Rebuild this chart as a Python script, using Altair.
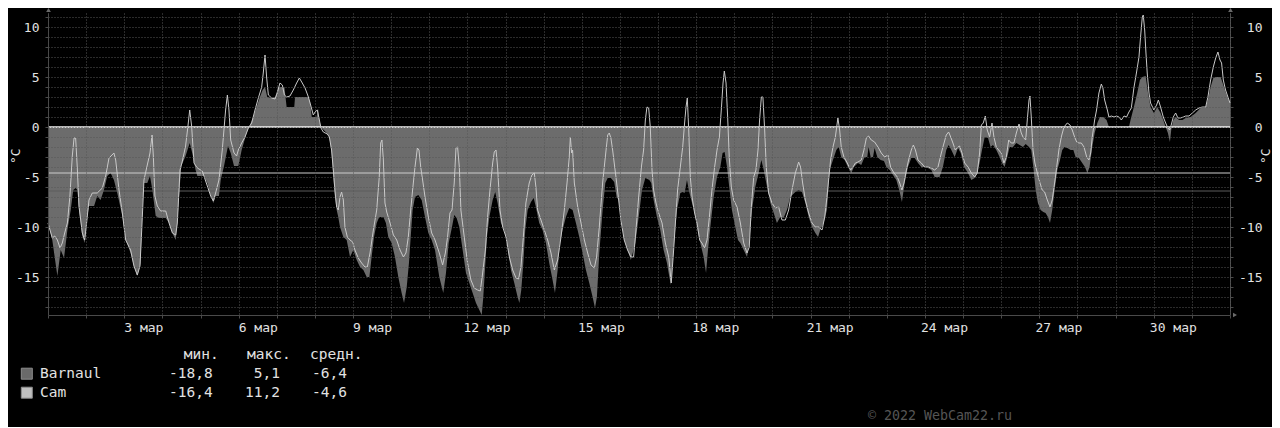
import altair as alt
import pandas as pd

# ---------------- data (hours since 1 Mar 00:00, °C) ----------------
barnaul = [
    (0, -9.6), (2.7, -11.3), (5.9, -14.9), (8.0, -12.3), (10.1, -13.1), (12.2, -10.3), (14.3, -8.3), (15.9, -6.3),
    (17.4, -6.1), (18.5, -6.3), (19.5, -8.3), (21.6, -10.9), (23.1, -11.6), (24.8, -8.9), (25.8, -7.9), (29.0, -7.9),
    (31.0, -6.9), (33.1, -7.3), (35.2, -6.3), (37.3, -4.9), (39.4, -4.6), (41.5, -5.3), (43.6, -6.6), (46.8, -8.9),
    (48.9, -11.3), (52.0, -12.6), (54.1, -13.9), (56.2, -14.9), (58.3, -13.6), (59.4, -8.3), (60.4, -5.6), (62.5, -5.6),
    (64.2, -4.9), (65.7, -6.3), (67.8, -8.9), (69.9, -9.1), (74.1, -9.1), (76.2, -9.6), (78.3, -10.6), (80.4, -11.3),
    (81.4, -9.6), (82.5, -6.9), (83.9, -3.9), (86.6, -2.9), (89.2, -1.6), (90.8, -2.6), (92.9, -4.3), (94.0, -4.9),
    (98.2, -4.9), (100.3, -5.6), (102.4, -6.9), (104.1, -7.6), (105.5, -6.9), (107.6, -6.9), (108.7, -5.3), (110.8, -3.9),
    (113.3, -1.9), (115.0, -2.6), (117.1, -3.9), (119.8, -3.9), (121.9, -2.3), (125.0, -0.6), (127.1, 0.2), (129.2, 1.0),
    (131.3, 2.0), (133.4, 3.0), (135.1, 3.7), (136.6, 4.0), (138.0, 3.0), (140.8, 2.9), (143.0, 3.0), (145.0, 4.0),
    (148.8, 4.0), (150.2, 2.0), (155.0, 2.0), (155.5, 3.0), (163.8, 3.0), (165.0, 2.5), (166.0, 1.0), (169.0, 1.0),
    (170.0, 1.8), (171.0, 0.5), (172.3, -0.1), (175.4, -0.6), (177.1, -1.0), (178.5, -2.6), (179.6, -5.0), (180.6, -7.0),
    (181.7, -8.3), (182.7, -9.0), (183.8, -10.0), (185.9, -11.0), (188.0, -11.3), (190.1, -13.0), (192.2, -12.3), (194.3, -13.3),
    (196.4, -14.0), (198.5, -14.3), (200.6, -15.0), (202.3, -15.0), (203.7, -13.0), (205.2, -11.0), (206.9, -9.6), (208.5, -9.0),
    (211.1, -9.0), (212.7, -9.6), (214.2, -11.0), (216.3, -11.6), (218.4, -13.0), (220.5, -15.0), (222.6, -16.6), (224.1, -17.6),
    (225.8, -16.0), (227.2, -13.6), (228.3, -11.0), (229.5, -8.3), (231.0, -7.0), (233.1, -6.8), (235.2, -7.3), (237.3, -9.0),
    (239.4, -10.6), (241.5, -11.3), (243.6, -12.3), (246.3, -15.0), (248.8, -16.6), (250.5, -14.6), (252.2, -11.6), (254.3, -10.0),
    (255.7, -8.8), (257.2, -9.1), (258.9, -10.0), (261.0, -12.3), (263.1, -14.6), (265.2, -15.6), (267.3, -16.6), (269.4, -17.6),
    (271.5, -18.3), (273.0, -18.8), (274.0, -17.0), (275.3, -13.6), (276.3, -11.0), (277.8, -9.0), (279.9, -7.3), (281.5, -6.5),
    (283.0, -7.6), (285.1, -9.6), (287.2, -10.3), (289.3, -12.0), (291.4, -14.3), (293.5, -15.6), (295.6, -17.0), (296.7, -17.6),
    (297.9, -16.3), (299.2, -13.6), (300.4, -10.3), (301.9, -8.3), (304.0, -7.5), (305.7, -7.1), (307.1, -8.0), (309.2, -9.6),
    (311.3, -10.3), (313.4, -11.6), (315.5, -13.6), (317.6, -15.3), (319.1, -16.6), (320.8, -14.3), (322.2, -11.6), (323.9, -10.3),
    (326.0, -9.0), (328.1, -8.1), (330.2, -8.3), (332.3, -9.6), (334.4, -11.0), (336.5, -12.6), (338.6, -14.3), (340.7, -15.6),
    (342.8, -17.0), (344.3, -18.1), (345.5, -17.0), (347.0, -12.6), (349.1, -8.3), (350.8, -5.6), (352.3, -5.1), (354.3, -5.1),
    (356.4, -5.5), (357.9, -7.0), (359.2, -7.3), (360.6, -9.0), (362.7, -11.3), (364.8, -12.3), (366.9, -13.3), (369.7, -11.6),
    (371.8, -9.0), (373.9, -6.3), (376.0, -5.1), (378.5, -5.3), (379.7, -5.6), (381.2, -7.3), (383.3, -9.0), (385.4, -10.3),
    (387.5, -12.3), (389.6, -13.6), (391.1, -15.0), (392.1, -15.8), (393.2, -13.6), (394.4, -11.0), (395.9, -8.3), (398.0, -6.6),
    (399.5, -6.5), (400.7, -6.6), (402.2, -5.3), (403.3, -6.3), (404.9, -7.3), (407.0, -8.6), (408.5, -10.0), (410.6, -11.6),
    (412.7, -13.0), (414.2, -14.6), (415.4, -12.3), (416.9, -10.0), (419.0, -7.0), (421.1, -5.0), (423.2, -4.0), (424.6, -2.6),
    (425.9, -2.5), (427.4, -4.0), (428.8, -6.0), (430.5, -8.3), (432.6, -10.0), (434.3, -11.3), (435.8, -11.6), (437.9, -12.3),
    (440.0, -13.0), (441.4, -11.6), (443.1, -8.3), (445.2, -6.0), (447.3, -4.6), (449.0, -3.3), (450.5, -4.3), (452.6, -6.0),
    (454.7, -7.6), (456.8, -8.6), (458.8, -9.6), (460.9, -9.0), (463.0, -9.1), (465.1, -8.3), (467.2, -7.0), (470.4, -6.5),
    (472.5, -6.3), (474.6, -6.5), (476.7, -7.6), (478.8, -9.0), (480.9, -10.0), (483.0, -10.6), (484.7, -11.0), (486.1, -10.3),
    (488.2, -9.6), (490.3, -8.3), (492.0, -4.3), (494.1, -3.3), (496.2, -2.3), (497.7, -2.0), (499.3, -3.0), (501.4, -3.3),
    (503.5, -4.0), (505.6, -4.6), (507.3, -4.0), (509.8, -3.6), (511.9, -3.8), (514.0, -3.0), (515.7, -3.0), (516.5, -2.0),
    (517.8, -3.0), (519.3, -3.0), (520.3, -2.1), (522.0, -3.0), (524.1, -3.3), (526.2, -3.4), (527.7, -4.0), (529.8, -4.3),
    (531.9, -4.8), (534.0, -5.3), (536.1, -6.5), (537.5, -7.5), (539.2, -5.6), (541.3, -4.0), (543.4, -3.1), (545.5, -3.1),
    (547.6, -3.6), (549.7, -4.0), (552.8, -4.0), (556.0, -4.3), (558.1, -5.0), (561.2, -5.0), (563.3, -4.0), (565.4, -2.3),
    (566.9, -1.8), (568.6, -2.3), (570.7, -3.0), (572.8, -2.1), (574.5, -2.6), (576.6, -4.0), (579.1, -4.6), (581.2, -5.3),
    (583.3, -5.1), (584.9, -4.6), (586.4, -3.6), (587.9, -2.3), (589.6, -1.0), (591.7, -1.1), (593.3, -2.0), (594.8, -1.8),
    (596.9, -2.3), (599.0, -3.0), (600.5, -3.6), (602.1, -4.0), (603.8, -3.0), (605.3, -2.0), (607.4, -2.0), (609.5, -1.6),
    (611.6, -1.8), (613.7, -2.0), (615.4, -1.7), (617.5, -2.0), (618.9, -2.3), (620.2, -4.0), (621.7, -6.3), (623.1, -7.6),
    (624.8, -8.3), (626.5, -8.5), (627.9, -8.6), (629.4, -9.0), (630.7, -9.6), (632.1, -8.3), (633.6, -6.3), (635.3, -4.3),
    (637.0, -3.3), (638.4, -2.3), (639.9, -2.0), (641.6, -2.1), (643.7, -2.3), (645.4, -2.3), (646.8, -3.0), (648.9, -3.1),
    (651.0, -3.6), (652.7, -4.0), (654.2, -4.6), (655.6, -4.0), (657.3, -2.0), (658.8, -0.6), (660.5, 0.4), (662.1, 1.0),
    (664.2, 1.0), (666.3, 0.7), (667.8, 0.0), (680.4, 0.0), (681.4, 0.7), (683.5, 2.0), (685.6, 3.4), (687.3, 4.7),
    (688.8, 5.0), (690.9, 5.1), (692.4, 3.4), (694.0, 2.0), (696.1, 1.4), (698.2, 2.0), (700.3, 1.4), (702.0, 0.7),
    (703.5, 0.0), (704.9, -0.6), (706.2, -1.5), (707.0, -0.3), (708.3, 0.7), (709.8, 1.0), (711.9, 0.7), (714.0, 0.7),
    (716.1, 0.9), (719.2, 1.0), (722.4, 1.4), (725.5, 1.9), (728.7, 2.0), (730.1, 2.7), (731.8, 4.0), (733.5, 4.9),
    (735.0, 5.0), (738.1, 5.0), (739.8, 4.2), (741.2, 3.5), (742.7, 2.9), (744.0, 2.4),
]

cam = [
    (0, -9.6), (2.7, -11.1), (4.2, -10.9), (5.9, -11.3), (7.6, -12.1), (9.0, -11.6), (10.5, -10.6), (12.2, -9.6),
    (13.8, -6.9), (15.3, -2.9), (16.4, -1.1), (17.4, -1.1), (18.5, -4.3), (19.5, -7.9), (21.6, -10.6), (23.1, -11.3),
    (24.3, -9.6), (25.8, -7.3), (27.9, -6.6), (31.0, -6.6), (34.2, -6.1), (36.3, -4.9), (38.4, -3.1), (41.5, -2.6),
    (42.6, -3.3), (44.7, -6.3), (46.8, -8.6), (48.9, -11.3), (52.0, -12.3), (54.1, -13.9), (56.2, -14.8), (57.9, -13.9),
    (59.4, -8.9), (60.4, -5.3), (62.5, -3.8), (64.2, -2.6), (65.5, -0.8), (66.3, -2.9), (67.3, -6.9), (68.8, -7.9),
    (70.9, -8.4), (74.1, -8.4), (76.2, -9.6), (78.3, -10.6), (80.4, -10.8), (81.4, -9.6), (83.1, -4.3), (84.6, -3.4),
    (86.6, -1.9), (88.1, 0.1), (89.2, 1.7), (90.4, 0.1), (91.9, -3.6), (94.0, -4.1), (97.1, -4.4), (100.3, -5.9),
    (102.4, -6.9), (104.1, -7.4), (105.5, -6.6), (107.6, -5.3), (109.7, -2.3), (111.8, 1.7), (112.9, 3.2), (113.9, 1.7),
    (115.0, -1.3), (117.1, -2.6), (118.7, -2.9), (119.8, -2.3), (121.9, -1.6), (124.0, -1.0), (126.1, -0.1), (128.2, 0.4),
    (130.3, 1.7), (132.4, 2.9), (134.5, 4.0), (135.5, 5.4), (136.6, 7.2), (137.6, 5.0), (138.7, 3.2), (140.8, 2.9),
    (142.9, 2.8), (144.3, 3.4), (146.0, 4.4), (147.5, 4.2), (148.8, 3.2), (150.2, 3.0), (152.3, 3.1), (154.4, 3.7),
    (156.5, 4.4), (158.2, 4.9), (159.7, 4.5), (161.8, 3.9), (163.9, 3.0), (165.3, 2.2), (167.0, 1.2), (168.1, 1.5),
    (169.5, 1.7), (170.8, 0.7), (171.8, -0.1), (173.3, -0.5), (175.8, -0.7), (177.1, -1.0), (178.5, -2.3), (179.6, -4.3),
    (180.6, -6.3), (181.7, -8.0), (182.7, -8.3), (183.8, -7.0), (184.8, -6.5), (185.9, -7.3), (186.9, -10.0), (188.4, -11.0),
    (190.1, -11.3), (191.8, -11.5), (193.2, -12.3), (195.3, -13.1), (197.4, -13.6), (199.5, -14.0), (201.0, -14.0), (202.7, -12.6),
    (204.8, -10.3), (206.9, -8.3), (208.5, -5.0), (209.4, -1.6), (210.2, -1.3), (211.1, -3.3), (212.1, -7.6), (213.2, -8.5),
    (215.3, -9.6), (217.4, -10.8), (219.5, -11.3), (221.6, -12.3), (223.7, -13.0), (225.3, -12.6), (226.8, -11.0), (228.3, -8.3),
    (229.5, -6.3), (231.0, -4.0), (232.5, -2.1), (233.5, -2.3), (234.6, -4.0), (235.8, -5.3), (237.3, -7.0), (239.4, -9.0),
    (241.5, -10.6), (243.6, -11.3), (246.3, -12.6), (248.4, -13.8), (250.1, -12.6), (251.5, -11.0), (253.0, -8.6), (254.3, -8.3),
    (255.7, -5.6), (256.8, -2.1), (257.8, -2.0), (258.9, -4.0), (259.9, -8.3), (262.0, -11.0), (264.1, -13.6), (266.2, -15.3),
    (268.3, -16.1), (270.4, -16.3), (272.1, -16.4), (273.6, -14.6), (275.3, -12.3), (276.7, -9.0), (278.2, -6.3), (279.9, -3.6),
    (280.9, -2.5), (282.0, -2.3), (283.0, -4.0), (284.5, -8.3), (286.2, -10.0), (288.3, -11.0), (290.4, -13.0), (292.5, -14.3),
    (294.6, -15.1), (296.2, -15.2), (297.7, -14.0), (299.2, -11.0), (300.8, -7.6), (302.9, -5.6), (304.6, -4.8), (306.1, -4.6),
    (307.1, -6.0), (308.2, -8.3), (310.3, -9.3), (312.4, -10.3), (314.5, -11.3), (316.6, -12.6), (318.7, -14.3), (320.8, -13.3),
    (322.9, -11.0), (325.0, -8.3), (326.7, -5.6), (328.1, -3.0), (328.8, -1.0), (329.6, -2.6), (330.2, -2.3), (331.3, -5.6),
    (333.4, -8.0), (335.5, -9.6), (337.6, -11.3), (339.7, -12.6), (341.8, -13.8), (343.9, -14.1), (345.3, -13.0), (347.0, -10.0),
    (349.1, -5.6), (350.8, -3.0), (352.3, -0.8), (353.3, -0.6), (354.3, -1.1), (355.4, -2.3), (356.4, -3.6), (357.5, -5.0),
    (359.2, -7.3), (360.6, -9.3), (362.7, -11.3), (364.8, -12.3), (366.9, -13.0), (368.6, -13.0), (370.1, -10.3), (371.8, -7.0),
    (373.5, -4.0), (374.9, -2.3), (376.0, 0.7), (377.0, 2.0), (378.1, 1.9), (379.1, 0.0), (380.2, -4.3), (381.2, -6.3),
    (382.7, -7.6), (384.4, -8.6), (386.5, -9.6), (388.6, -11.6), (390.7, -13.0), (392.3, -15.6), (393.8, -12.3), (394.9, -9.6),
    (396.3, -6.3), (398.0, -4.0), (399.5, -2.0), (400.7, 0.4), (401.6, 2.0), (402.4, 2.9), (403.3, -0.3), (404.3, -5.0),
    (405.4, -7.0), (407.0, -8.6), (408.5, -9.6), (410.2, -11.3), (411.6, -11.6), (413.3, -12.1), (414.8, -11.3), (416.3, -9.0),
    (417.9, -6.3), (419.6, -4.0), (421.1, -2.3), (422.6, -1.0), (423.8, 1.7), (424.9, 4.4), (425.7, 5.6), (426.8, 4.4),
    (427.8, 1.0), (428.8, -3.0), (430.1, -6.0), (431.6, -7.3), (433.7, -8.0), (435.8, -9.6), (437.9, -11.6), (440.0, -12.6),
    (441.4, -12.0), (442.7, -8.0), (444.2, -5.0), (445.6, -4.3), (446.9, -2.3), (447.9, 0.7), (449.0, 3.0), (450.0, 3.0),
    (451.1, -0.3), (452.1, -4.0), (453.6, -6.6), (455.7, -7.6), (457.8, -8.1), (459.9, -8.0), (462.0, -9.3), (464.1, -9.3),
    (466.2, -8.3), (468.3, -6.3), (470.4, -4.6), (472.5, -3.5), (473.7, -4.0), (475.0, -5.6), (476.7, -7.3), (478.8, -8.6),
    (480.9, -9.6), (483.0, -10.0), (485.1, -10.0), (487.2, -10.3), (488.9, -9.0), (490.3, -7.0), (492.6, -3.3), (494.1, -2.0),
    (495.6, -1.0), (497.2, 0.9), (498.3, -0.3), (499.3, -2.0), (501.0, -3.0), (503.1, -3.6), (505.2, -4.3), (506.7, -4.0),
    (508.2, -3.6), (509.8, -3.5), (511.9, -3.3), (513.6, -2.3), (515.1, -1.1), (516.5, -0.9), (518.2, -1.3), (520.3, -1.5),
    (522.4, -2.0), (524.5, -2.6), (526.6, -3.0), (528.7, -2.8), (530.4, -4.0), (532.5, -4.6), (534.6, -5.0), (536.1, -5.6),
    (537.5, -6.3), (538.8, -5.6), (540.3, -4.3), (541.7, -3.3), (543.4, -2.3), (544.7, -1.8), (546.0, -2.3), (547.6, -3.3),
    (549.7, -3.6), (551.8, -4.0), (553.9, -4.0), (556.0, -4.1), (558.1, -4.3), (560.2, -4.0), (562.3, -2.6), (564.0, -1.6),
    (565.4, -0.8), (566.9, -0.5), (568.2, -1.0), (569.6, -1.6), (571.1, -2.3), (572.8, -2.0), (573.8, -1.9), (575.3, -2.6),
    (577.0, -3.6), (579.1, -4.0), (581.2, -4.6), (583.3, -5.0), (584.9, -4.6), (586.4, -2.6), (587.5, 0.2), (588.7, 0.4),
    (590.0, 1.1), (591.2, -0.3), (592.7, -1.0), (594.2, 0.4), (595.4, -1.0), (596.9, -2.0), (598.4, -2.3), (600.0, -2.6),
    (601.7, -3.6), (603.2, -3.0), (604.7, -1.3), (606.3, -1.6), (608.0, -1.6), (609.5, -0.6), (611.2, 0.3), (612.6, -0.6),
    (613.7, -1.0), (615.4, -1.3), (616.4, 0.7), (617.5, 2.7), (618.1, 3.1), (618.9, 1.0), (620.0, -2.3), (621.2, -3.6),
    (622.7, -4.6), (624.4, -5.6), (625.8, -6.3), (627.3, -6.5), (629.0, -7.3), (630.7, -8.0), (632.1, -7.3), (633.6, -5.6),
    (634.9, -4.0), (636.3, -2.3), (637.8, -1.0), (639.5, 0.0), (641.6, 0.4), (643.3, 0.2), (644.7, -0.3), (646.2, -1.0),
    (647.5, -1.5), (648.9, -1.6), (650.4, -1.6), (652.1, -2.0), (653.8, -3.0), (655.2, -3.3), (656.3, -2.6), (657.3, -1.0),
    (658.8, 0.7), (660.0, 1.7), (661.5, 3.4), (663.0, 4.3), (664.0, 3.9), (665.1, 2.7), (666.8, 1.7), (667.8, 1.0),
    (669.3, 1.1), (671.0, 1.0), (672.6, 1.1), (674.1, 1.0), (675.6, 0.7), (677.3, 1.1), (678.9, 1.0), (680.4, 1.5),
    (681.9, 1.9), (683.5, 3.9), (685.2, 5.5), (686.7, 7.0), (687.7, 9.0), (688.8, 11.0), (689.4, 11.2), (690.3, 9.7),
    (691.1, 7.4), (691.9, 5.4), (693.0, 3.4), (694.0, 2.4), (696.1, 1.7), (697.8, 2.2), (698.9, 2.7), (700.3, 2.0),
    (702.0, 1.0), (703.5, 0.4), (704.9, -0.1), (706.0, -0.3), (707.0, 0.2), (708.3, 1.0), (709.8, 1.4), (711.2, 0.9),
    (712.9, 0.9), (714.6, 1.0), (716.1, 1.1), (718.2, 1.1), (720.3, 1.4), (722.4, 1.7), (724.5, 1.9), (726.6, 2.0),
    (728.7, 2.0), (730.1, 3.0), (731.8, 4.7), (733.5, 6.0), (735.0, 6.9), (736.4, 7.5), (737.7, 6.7), (738.7, 6.4),
    (739.8, 4.7), (741.2, 3.7), (742.7, 3.0), (744.0, 2.4),
]

series_names = ["Barnaul", "Cam"]
series_min_txt = ["-18,8", "-16,4"]
series_max_txt = ["5,1", "11,2"]
series_avg_txt = ["-6,4", "-4,6"]
series_avg = [-6.4, -4.6]
stat_headers = ["мин.", "макс.", "средн."]
label_days = [3, 6, 9, 12, 15, 18, 21, 24, 27, 30]
month_abbr = "мар"
n_days = 31
y_domain = [-18.8, 11.4]
y_values = list(range(-18, 12))
unit = "°C"
watermark = "© 2022 WebCam22.ru"

# ---------------- style ----------------
FONT = "DejaVu Sans Mono"
BG = "#000000"
C_BARNAUL = "#6c6c6c"
C_BARNAUL_AVG = "#5c5c5c"
C_CAM = "#c9c9c9"
C_CAM_AVG = "#cdcdcd"
C_ZERO = "#f4f4f4"
C_GRID = "#575757"
C_AXIS = "#4a4a4a"
C_TEXT = "#e2e2e2"
C_WM = "#555555"
SQ_COLORS = ["#6a6a6a", "#c0c0c0"]
AVG_COLORS = [C_BARNAUL_AVG, C_CAM_AVG]

W, H = 1182, 302

xs = alt.Scale(domain=[0, n_days * 24], nice=False, zero=False)
ys = alt.Scale(domain=y_domain, nice=False, zero=False)

five_expr = "datum.value % 5 === 0 ? '' + datum.value : ''"
day_expr = ("(floor(datum.value / 24) + 1 < 10 ? '\u00a0' : '') + "
            "(floor(datum.value / 24) + 1) + ' " + month_abbr + "'")

bdf = pd.DataFrame(barnaul, columns=["h", "t"])
cdf = pd.DataFrame(cam, columns=["h", "t"])

area = alt.Chart(bdf).mark_area(color=C_BARNAUL, opacity=1, interpolate="linear").encode(
    x=alt.X("h:Q", scale=xs, axis=alt.Axis(
        orient="bottom", values=[d * 24 for d in range(n_days + 1)], labels=False,
        ticks=True, tickSize=3, tickColor=C_AXIS, tickWidth=1,
        grid=True, gridColor=C_GRID, gridDash=[1, 2], gridWidth=1, gridOpacity=1,
        domain=True, domainColor=C_AXIS, domainWidth=1, title=None, zindex=1)),
    y=alt.Y("t:Q", scale=ys, axis=alt.Axis(
        orient="left", values=y_values, labelExpr=five_expr, labelOverlap=False, labelFlush=False,
        labelFont=FONT, labelFontSize=13, labelColor=C_TEXT, labelPadding=6,
        ticks=True, tickSize=3, tickColor=C_AXIS,
        grid=True, gridColor=C_GRID, gridDash=[1, 2], gridWidth=1, gridOpacity=1,
        domain=True, domainColor=C_AXIS, title=None, zindex=1)),
    y2=alt.datum(0),
)

line = alt.Chart(cdf).mark_line(color=C_CAM, strokeWidth=1, interpolate="linear").encode(
    x=alt.X("h:Q", scale=xs, axis=alt.Axis(
        orient="bottom", values=[(d - 1) * 24 + 12 for d in label_days], labelExpr=day_expr,
        labelFont=FONT, labelFontSize=13, labelColor=C_TEXT, labelPadding=6,
        labelOverlap=False, labelFlush=False,
        ticks=False, tickSize=0, grid=False, domain=False, title=None)),
    y=alt.Y("t:Q", scale=ys, axis=alt.Axis(
        orient="right", values=y_values, labelExpr=five_expr, labelOverlap=False, labelFlush=False,
        labelFont=FONT, labelFontSize=13, labelColor=C_TEXT, labelAlign="right", labelPadding=29,
        ticks=True, tickSize=3, tickColor=C_AXIS, grid=False, domain=True, domainColor=C_AXIS,
        title=None)),
)

zero = alt.Chart(pd.DataFrame({"z": [0]})).mark_rule(color=C_ZERO, strokeWidth=1.6).encode(
    y=alt.Y("z:Q", scale=ys, axis=None))

avg_rules = [
    alt.Chart(pd.DataFrame({"avg": [v]})).mark_rule(color=col, strokeWidth=1).encode(
        y=alt.Y("avg:Q", scale=ys, axis=None))
    for v, col in zip(series_avg, AVG_COLORS)
]


def txt(s, x, y, align="left", color=C_TEXT, size=14.5, angle=None):
    kw = dict(font=FONT, fontSize=size, color=color, align=align, baseline="middle")
    if angle is not None:
        kw["angle"] = angle
    return alt.Chart(pd.DataFrame({"s": [s]})).mark_text(**kw).encode(
        x=alt.value(x), y=alt.value(y), text="s:N")


decor = []
# legend header
for head, hx in zip(stat_headers, [135.7, 199, 262]):
    decor.append(txt(head, hx, 342.3))
# legend rows
for i, name in enumerate(series_names):
    ry = 360.7 + i * 19
    decor.append(
        alt.Chart(pd.DataFrame({"n": [name]})).mark_square(
            size=121, filled=True, fill=SQ_COLORS[i], stroke="#8c8c8c", strokeWidth=1, opacity=1
        ).encode(x=alt.value(-21.2), y=alt.value(ry)))
    decor.append(txt(name, -8, ry))
    decor.append(txt(series_min_txt[i], 164.7, ry, align="right"))
    decor.append(txt(series_max_txt[i], 232, ry, align="right"))
    decor.append(txt(series_avg_txt[i], 299, ry, align="right"))

# unit labels
decor.append(txt(unit, -32, 151, size=13, angle=270))
decor.append(txt(unit, W + 36, 151, size=13, angle=270))
# watermark
decor.append(txt(watermark, 892, 403, align="center", color=C_WM, size=13.3))
# axis arrows
for shape, ax, ay in [("triangle-up", 0.5, -3), ("triangle-up", W + 0.5, -3), ("triangle-right", W + 5, H)]:
    decor.append(
        alt.Chart(pd.DataFrame({"a": [shape]})).mark_point(
            shape=shape, filled=True, size=22, color="#6a6a6a", opacity=1
        ).encode(x=alt.value(ax), y=alt.value(ay)))

chart = alt.layer(area, zero, *avg_rules, line, *decor).resolve_axis(
    x="independent", y="independent"
).properties(
    width=W, height=H, background=BG,
    padding={"left": 40, "top": 5, "right": 42, "bottom": 112},
    autosize=alt.AutoSizeParams(type="none"),
).configure_view(stroke=None)

chart.save("out.html", embed_options={"renderer": "svg", "actions": False})
